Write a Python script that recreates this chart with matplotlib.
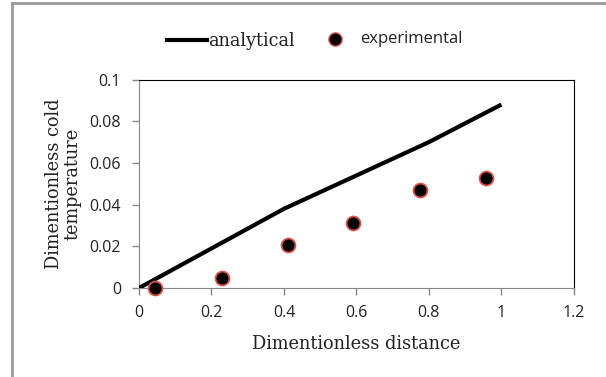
import matplotlib
matplotlib.use("Agg")
import matplotlib.pyplot as plt
from matplotlib.lines import Line2D

# analytical curve
x_an = [0, 0.2, 0.4, 0.6, 0.8, 1.0]
y_an = [0, 0.019, 0.038, 0.054, 0.070, 0.088]

# experimental points
x_exp = [0.044, 0.23, 0.412, 0.591, 0.775, 0.957]
y_exp = [0.0, 0.005, 0.0207, 0.0314, 0.0471, 0.0527]

xticks = [0, 0.2, 0.4, 0.6, 0.8, 1, 1.2]
xtick_labels = ["0", "0.2", "0.4", "0.6", "0.8", "1", "1.2"]
yticks = [0, 0.02, 0.04, 0.06, 0.08, 0.1]
ytick_labels = ["0", "0.02", "0.04", "0.06", "0.08", "0.1"]

serif = "DejaVu Serif"
sans = "Open Sans"

fig = plt.figure(figsize=(6.06, 3.77), dpi=100)
ax = fig.add_axes([0.2294, 0.236, 0.7176, 0.553])

ax.plot(x_an, y_an, color="black", lw=3, solid_capstyle="butt", zorder=3)
ax.scatter(x_exp, y_exp, s=100, color="black", edgecolors="#d9534f",
           linewidths=1.3, zorder=4, clip_on=False)

ax.set_xlim(0, 1.2)
ax.set_ylim(0, 0.1)
ax.set_xticks(xticks)
ax.set_xticklabels(xtick_labels, fontfamily=sans, fontsize=11.5, color="#222222")
ax.set_yticks(yticks)
ax.set_yticklabels(ytick_labels, fontfamily=sans, fontsize=11.5, color="#222222")
ax.tick_params(direction="out", length=5, color="#888888", width=1)
ax.tick_params(axis="y", pad=8)
ax.tick_params(axis="x", pad=7)

for s in ["left", "bottom"]:
    ax.spines[s].set_color("#888888")
for s in ["top", "right"]:
    ax.spines[s].set_color("black")

ax.set_xlabel("Dimentionless distance", fontfamily=serif, fontsize=12.8, color="#222222")
ax.xaxis.set_label_coords(0.5, -0.225)
ax.set_ylabel("Dimentionless cold\ntemperature", fontfamily=serif, fontsize=12.8,
              color="#222222", linespacing=1.05)
ax.yaxis.set_label_coords(-0.132, 0.5)

# legend (above the plot)
fig.add_artist(Line2D([167 / 606, 207 / 606], [1 - 40 / 377, 1 - 40 / 377],
                      color="black", lw=3))
fig.text(208 / 606, 1 - 41 / 377, "analytical", fontfamily=serif, fontsize=12.8,
         va="center", ha="left", color="#222222")
fig.add_artist(Line2D([335 / 606], [1 - 39 / 377], marker="o", ms=9.5,
                      color="black", markeredgecolor="#d9534f", lw=0))
fig.text(360 / 606, 1 - 39 / 377, "experimental", fontfamily=sans, fontsize=12,
         va="center", ha="left", color="#222222")

# outer chart border
fig.add_artist(Line2D([12 / 606, 12 / 606], [0, 1 - 2.5 / 377], color="#999999", lw=2))
fig.add_artist(Line2D([12 / 606, 1], [1 - 2.5 / 377, 1 - 2.5 / 377], color="#999999", lw=2))

fig.savefig("out.png", dpi=100)
